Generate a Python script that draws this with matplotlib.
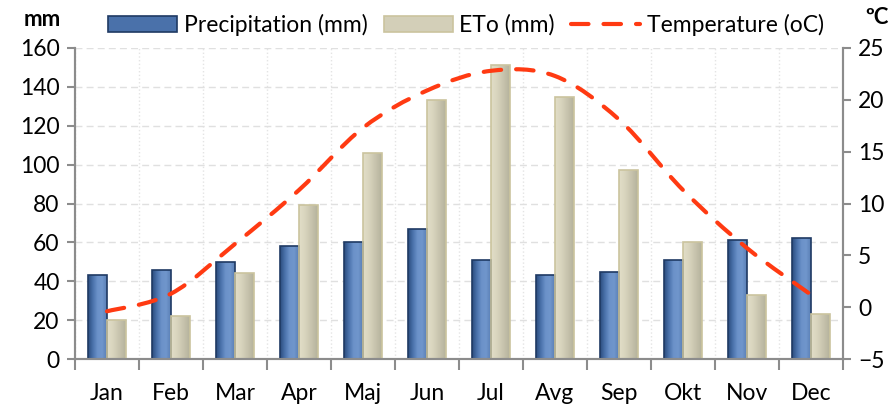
import numpy as np
import matplotlib.pyplot as plt
from matplotlib.colors import LinearSegmentedColormap
from matplotlib.patches import Patch, PathPatch
from matplotlib.lines import Line2D
from matplotlib.path import Path

plt.rcParams['font.family'] = ['Lato', 'DejaVu Sans']

months = ['Jan', 'Feb', 'Mar', 'Apr', 'Maj', 'Jun', 'Jul', 'Avg', 'Sep', 'Okt', 'Nov', 'Dec']
precip = [43, 46, 50, 58, 60, 67, 51, 43, 45, 51, 61, 62]        # mm
eto = [20, 22, 44, 79, 106, 133, 151, 135, 97, 60, 33, 23]       # mm
temp = [-0.4, 1.3, 6.1, 11.3, 17.3, 20.9, 22.8, 22.3, 18.1, 11.3, 5.7, 1.2]  # oC

blue_cmap = LinearSegmentedColormap.from_list('bl', ['#2b4c7e', '#4a71aa', '#6b91c9', '#7096cc', '#5b80b6'])
beige_cmap = LinearSegmentedColormap.from_list('bg', ['#e2dec8', '#d8d4bd', '#c7c3ad', '#b5b29c'])
red = '#ff3a12'
fs = 16.5

fig = plt.figure(figsize=(8.94, 4.05), dpi=100)
ax = fig.add_axes([75/894, 46/405, 768/894, 311/405])
ax2 = ax.twinx()

x = np.arange(len(months))
w = 0.295

def shaded_bars(xs, vals, cmap, edge):
    bars = ax.bar(xs, vals, w, facecolor='none', edgecolor=edge, linewidth=1.2, zorder=3)
    grad = np.linspace(0, 1, 64).reshape(1, -1)
    for b in bars:
        x0, h = b.get_x(), b.get_height()
        im = ax.imshow(grad, cmap=cmap, aspect='auto', extent=[x0, x0 + w, 0, h], zorder=2)
        im.set_clip_path(b)
    return bars

shaded_bars(x - w/2, precip, blue_cmap, '#1f3a63')
shaded_bars(x + w/2, eto, beige_cmap, '#cbc49e')

ax.set_xlim(-0.5, 11.5)
ax.set_ylim(0, 160)
ax.set_yticks(range(0, 161, 20))
ax.set_xticks(x)
ax.set_xticklabels(months)
ax.set_xticks(np.arange(-0.5, 12, 1), minor=True)
ax.yaxis.grid(True, color='#e0e0e0', linestyle=(0, (5, 3)), linewidth=1)
ax.xaxis.grid(True, which='minor', color='#e4e4e4', linestyle=':', linewidth=1)
ax.set_axisbelow(True)
ax.tick_params(axis='x', which='major', length=0, pad=17, labelsize=fs)
ax.tick_params(axis='x', which='minor', length=8, width=1.5, color='#8c8c8c')
ax.tick_params(axis='y', length=6, width=1.5, color='#8c8c8c', labelsize=fs, pad=5)

# temperature as a smoothed curve (catmull-rom -> cubic bezier)
pts = np.column_stack([x, temp]).astype(float)
ext = np.vstack([pts[0], pts, pts[-1]])
verts = [tuple(pts[0])]
codes = [Path.MOVETO]
for i in range(len(pts) - 1):
    p0, p1, p2, p3 = ext[i], ext[i+1], ext[i+2], ext[i+3]
    verts += [tuple(p1 + (p2 - p0)/6), tuple(p2 - (p3 - p1)/6), tuple(p2)]
    codes += [Path.CURVE4] * 3
curve = PathPatch(Path(verts, codes), facecolor='none', edgecolor=red, linewidth=3,
                  linestyle=(0, (4.2, 3.6)), capstyle='round', zorder=5)
ax2.add_patch(curve)
ax2.set_ylim(-5, 25)
ax2.set_yticks(range(-5, 26, 5))
ax2.tick_params(axis='y', length=6, width=1.5, color='#8c8c8c', labelsize=fs, pad=5)

for a in (ax, ax2):
    a.spines['top'].set_visible(False)
    for s in ('left', 'right', 'bottom'):
        a.spines[s].set_color('#8c8c8c')
        a.spines[s].set_linewidth(1.5)

fig.text(42/894, 1 - 20/405, 'mm', fontsize=16, fontweight='bold', ha='center', va='center')
fig.text(865/894, 1 - 18/405, 'ºC', fontsize=16, fontweight='bold', ha='left', va='center')

handles = [Patch(facecolor='#4a71aa', edgecolor='#1f3a63', linewidth=1.2),
           Patch(facecolor='#d3cfb8', edgecolor='#cbc49e', linewidth=1.2),
           Line2D([], [], color=red, linewidth=3, linestyle=(0, (4.2, 3.6)), dash_capstyle='round')]
fig.legend(handles, ['Precipitation (mm)', 'ETo (mm)', 'Temperature (oC)'], ncol=3,
           loc='center', bbox_to_anchor=(466/894, 1 - 25/405), frameon=False, fontsize=fs,
           handlelength=3.0, handleheight=0.75, handletextpad=0.3, columnspacing=0.7)

fig.savefig('out.png', dpi=100)
